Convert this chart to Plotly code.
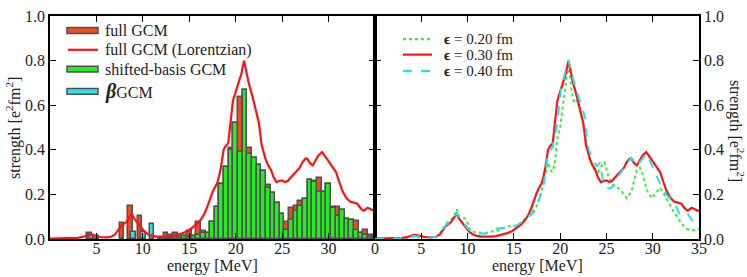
import plotly.graph_objects as go

# ---------------- data ----------------
# histogram bins (MeV) for full GCM / shifted-basis GCM
bin_E = [12.0, 12.5, 13.0, 13.5, 14.0, 14.5, 15.0, 15.5, 16.0, 16.5, 17.0, 17.5, 18.0, 18.5,
         19.0, 19.5, 20.0, 20.5, 21.0, 21.5, 22.0, 22.5, 23.0, 23.5, 24.0, 24.5, 25.0, 25.5,
         26.0, 26.5, 27.0, 27.5, 28.0, 28.5, 29.0, 29.5, 30.0, 30.5, 31.0, 31.5, 32.0, 32.5,
         33.0, 33.5, 34.0, 34.5, 35.0]
shifted_gcm = [0.003, 0.000, 0.005, 0.010, 0.007, 0.013, 0.010, 0.012, 0.020, 0.025, 0.025, 0.075, 0.145, 0.245,
               0.325, 0.400, 0.520, 0.390, 0.670, 0.380, 0.365, 0.330, 0.305, 0.230, 0.205, 0.160, 0.110, 0.040,
               0.085, 0.125, 0.150, 0.180, 0.265, 0.255, 0.210, 0.210, 0.245, 0.140, 0.105, 0.130, 0.090, 0.085,
               0.040, 0.025, 0.020, 0.010, 0.015]
full_gcm_high = [0.003, 0.025, 0.020, 0.025, 0.007, 0.013, 0.035, 0.012, 0.075, 0.035, 0.025, 0.075, 0.145, 0.245,
                 0.325, 0.410, 0.520, 0.635, 0.670, 0.410, 0.365, 0.330, 0.305, 0.240, 0.205, 0.160, 0.110, 0.075,
                 0.140, 0.150, 0.170, 0.180, 0.265, 0.260, 0.275, 0.210, 0.245, 0.145, 0.145, 0.130, 0.090, 0.085,
                 0.080, 0.025, 0.040, 0.020, 0.015]
low_E_full = [4.25, 7.75, 8.7, 9.7]
low_full = [0.025, 0.070, 0.150, 0.104]
beta_E = [4.45, 5.0, 9.0, 10.05, 11.0]
beta_gcm = [0.017, 0.012, 0.032, 0.033, 0.066]

# smeared strength functions
E30 = [0, 1, 2, 3, 3.6, 4.1, 4.5, 4.9, 5.4, 6.0, 6.6, 7.0, 7.3, 7.7, 8.2, 8.5, 8.8, 9.1, 9.4, 9.8,
       10.2, 10.6, 11.0, 11.5, 12.0, 12.5, 13.1, 13.6, 14.2, 14.8, 15.3, 15.8, 16.2, 16.6, 16.9, 17.2,
       17.5, 17.8, 18.0, 18.2, 18.4, 18.7, 18.9, 19.2, 19.4, 19.7, 20.0, 20.3, 20.6, 20.9, 21.1, 21.4,
       21.8, 22.1, 22.5, 22.8, 23.2, 23.5, 23.8, 24.1, 24.4, 24.7, 25.0, 25.3, 25.6, 25.9, 26.2, 26.6,
       26.9, 27.2, 27.5, 27.7, 28.0, 28.3, 28.6, 28.9, 29.3, 29.6, 29.9, 30.3, 30.8, 31.2, 31.5, 31.9,
       32.3, 32.7, 33.1, 33.5, 33.8, 34.2, 34.6, 35.0]
S30 = [0.002, 0.002, 0.003, 0.005, 0.010, 0.017, 0.017, 0.013, 0.009, 0.007, 0.010, 0.020, 0.035, 0.060,
       0.075, 0.095, 0.113, 0.090, 0.073, 0.055, 0.032, 0.020, 0.014, 0.011, 0.010, 0.011, 0.013, 0.018,
       0.025, 0.035, 0.050, 0.065, 0.085, 0.110, 0.140, 0.175, 0.210, 0.235, 0.250, 0.280, 0.320, 0.400,
       0.415, 0.430, 0.520, 0.620, 0.660, 0.700, 0.740, 0.800, 0.760, 0.700, 0.640, 0.590, 0.520, 0.420,
       0.360, 0.330, 0.310, 0.275, 0.255, 0.260, 0.263, 0.255, 0.260, 0.275, 0.290, 0.305, 0.320, 0.345,
       0.360, 0.360, 0.340, 0.330, 0.355, 0.375, 0.390, 0.375, 0.355, 0.330, 0.300, 0.250, 0.215, 0.185,
       0.168, 0.163, 0.158, 0.135, 0.127, 0.140, 0.132, 0.125]
E20 = [0, 2, 3, 3.6, 4.1, 4.6, 5.2, 6.0, 6.6, 7.0, 7.3, 7.7, 8.2, 8.5, 8.85, 9.1, 9.4, 9.7, 10.0, 10.3,
       10.7, 11.2, 12.0, 12.8, 13.5, 14.2, 14.8, 15.3, 15.8, 16.2, 16.7, 17.1, 17.5, 17.8, 18.1, 18.35,
       18.7, 18.9, 19.1, 19.4, 19.7, 20.0, 20.3, 20.7, 20.9, 21.2, 21.5, 21.85, 22.2, 22.5, 22.85, 23.2,
       23.6, 24.1, 24.5, 24.8, 25.2, 25.7, 26.1, 26.5, 26.9, 27.2, 27.7, 28.0, 28.3, 28.6, 28.8, 29.1,
       29.35, 29.9, 30.35, 30.8, 31.1, 31.5, 31.9, 32.2, 32.6, 32.9, 33.3, 33.7, 34.2, 34.6, 35.0]
S20 = [0.000, 0.001, 0.003, 0.006, 0.010, 0.009, 0.007, 0.007, 0.010, 0.025, 0.045, 0.070, 0.085, 0.100,
       0.133, 0.100, 0.097, 0.094, 0.070, 0.040, 0.032, 0.028, 0.028, 0.033, 0.040, 0.056, 0.058, 0.060,
       0.072, 0.090, 0.105, 0.125, 0.150, 0.183, 0.230, 0.284, 0.342, 0.320, 0.300, 0.330, 0.450, 0.500,
       0.600, 0.746, 0.790, 0.674, 0.610, 0.623, 0.570, 0.515, 0.430, 0.356, 0.320, 0.300, 0.330, 0.345,
       0.284, 0.240, 0.235, 0.220, 0.200, 0.183, 0.212, 0.260, 0.313, 0.320, 0.306, 0.260, 0.220, 0.183,
       0.205, 0.230, 0.210, 0.183, 0.150, 0.126, 0.100, 0.082, 0.060, 0.046, 0.039, 0.040, 0.046]
E40 = [0, 2, 3, 3.6, 4.1, 4.6, 5.2, 6.0, 6.6, 7.0, 7.3, 7.7, 8.2, 8.5, 8.85, 9.2, 9.6, 10.0, 10.3, 10.7,
       11.2, 12.0, 12.6, 13.1, 13.6, 14.2, 14.8, 15.3, 15.8, 16.2, 16.7, 17.1, 17.6, 18.2, 18.5, 18.7,
       19.0, 19.2, 19.6, 20.1, 20.5, 20.9, 21.2, 21.5, 21.8, 22.2, 22.7, 22.85, 23.1, 23.4, 23.9, 24.3,
       24.65, 25.0, 25.4, 25.7, 26.0, 26.3, 26.8, 27.3, 27.7, 28.0, 28.3, 28.7, 29.0, 29.35, 29.7, 30.1,
       30.5, 30.8, 31.2, 31.5, 31.9, 32.2, 32.6, 32.9, 33.3, 33.7, 34.0, 34.4, 34.9, 35.0]
S40 = [0.000, 0.001, 0.003, 0.008, 0.013, 0.012, 0.009, 0.007, 0.010, 0.020, 0.040, 0.065, 0.080, 0.095,
       0.118, 0.085, 0.070, 0.050, 0.035, 0.028, 0.025, 0.025, 0.033, 0.046, 0.048, 0.050, 0.055, 0.060,
       0.075, 0.094, 0.105, 0.118, 0.162, 0.240, 0.330, 0.385, 0.400, 0.414, 0.500, 0.674, 0.740, 0.800,
       0.746, 0.700, 0.660, 0.610, 0.544, 0.460, 0.400, 0.370, 0.327, 0.342, 0.255, 0.227, 0.228, 0.234,
       0.260, 0.284, 0.313, 0.345, 0.364, 0.345, 0.328, 0.350, 0.364, 0.382, 0.350, 0.313, 0.280, 0.248,
       0.220, 0.198, 0.180, 0.169, 0.140, 0.111, 0.110, 0.118, 0.100, 0.075, 0.053, 0.050]

x_ticks = [0, 5, 10, 15, 20, 25, 30, 35]
left_x_labels = ["", "5", "10", "15", "20", "25", "30", ""]
right_x_labels = ["0", "5", "10", "15", "20", "25", "30", "35"]
y_ticks = [0.0, 0.2, 0.4, 0.6, 0.8, 1.0]

# ---------------- style ----------------
FONT = "Liberation Serif"
RED_BAR = "#ef4a24"
GREEN_BAR = "#22ee22"
CYAN_BAR = "#33ddee"
EDGE = "#505050"
LINE_RED = "#ff1111"
LINE_GREEN = "#33ee33"
LINE_CYAN = "#22e0ee"

W, H = 747, 277
L, R, T, B = 50, 48, 8, 38
PW = W - L - R
PH = H - T - B
split = (375 - L) / PW


def px(x):
    return (x - L) / PW


def py(y):
    return (H - B - y) / PH


fig = go.Figure()

fig.add_trace(go.Bar(x=low_E_full + bin_E, y=low_full + full_gcm_high, width=0.5,
                     marker=dict(color=RED_BAR, line=dict(color=EDGE, width=1.5)),
                     xaxis="x", yaxis="y", showlegend=False))
fig.add_trace(go.Bar(x=bin_E, y=shifted_gcm, width=0.5,
                     marker=dict(color=GREEN_BAR, line=dict(color=EDGE, width=1.5)),
                     xaxis="x", yaxis="y", showlegend=False))
fig.add_trace(go.Bar(x=beta_E, y=beta_gcm, width=0.5,
                     marker=dict(color=CYAN_BAR, line=dict(color=EDGE, width=1.5)),
                     xaxis="x", yaxis="y", showlegend=False))
fig.add_trace(go.Scatter(x=E30, y=S30, mode="lines", line=dict(color=LINE_RED, width=2.2),
                         xaxis="x", yaxis="y", showlegend=False))

fig.add_trace(go.Scatter(x=E20, y=S20, mode="lines", line=dict(color=LINE_GREEN, width=2, dash="dot"),
                         xaxis="x2", yaxis="y2", showlegend=False))
fig.add_trace(go.Scatter(x=E30, y=S30, mode="lines", line=dict(color=LINE_RED, width=2.2),
                         xaxis="x2", yaxis="y2", showlegend=False))
fig.add_trace(go.Scatter(x=E40, y=S40, mode="lines", line=dict(color=LINE_CYAN, width=2, dash="dash"),
                         xaxis="x2", yaxis="y2", showlegend=False))

axis_common = dict(showline=True, linecolor="black", linewidth=1.5, mirror="ticks",
                   ticks="inside", ticklen=6, tickcolor="black", tickwidth=1,
                   showgrid=False, zeroline=False,
                   tickfont=dict(family=FONT, size=16, color="#222"))

fig.update_layout(
    width=W, height=H, autosize=False,
    margin=dict(l=L, r=R, t=T, b=B, pad=0),
    paper_bgcolor="white", plot_bgcolor="white",
    barmode="overlay", bargap=0,
    font=dict(family=FONT, size=16, color="#222"),
    xaxis=dict(domain=[0, split], range=[0, 35], tickvals=x_ticks, ticktext=left_x_labels,
               anchor="y", ticklabelstandoff=-6, **axis_common),
    yaxis=dict(domain=[0, 1], range=[0, 1], tickvals=y_ticks, tickformat=".1f",
               anchor="x", **axis_common),
    xaxis2=dict(domain=[split, 1], range=[0, 35], tickvals=x_ticks, ticktext=right_x_labels,
                anchor="y2", ticklabelstandoff=-6, **axis_common),
    yaxis2=dict(domain=[0, 1], range=[0, 1], tickvals=y_ticks, tickformat=".1f",
                anchor="x2", side="right", **axis_common),
)

ann = []
shapes = []
# axis titles
ann.append(dict(x=split / 2, y=py(267), xref="paper", yref="paper", text="energy [MeV]",
                showarrow=False, xanchor="center", yanchor="middle", font=dict(size=16)))
ann.append(dict(x=(1 + split) / 2, y=py(267), xref="paper", yref="paper", text="energy [MeV]",
                showarrow=False, xanchor="center", yanchor="middle", font=dict(size=16)))
ann.append(dict(x=px(14), y=py(124), xref="paper", yref="paper",
                text="strength [e<sup>2</sup>fm<sup>2</sup>]", textangle=-90,
                showarrow=False, xanchor="center", yanchor="middle", font=dict(size=16)))
ann.append(dict(x=px(736), y=py(127), xref="paper", yref="paper",
                text="strength [e<sup>2</sup>fm<sup>2</sup>]", textangle=90,
                showarrow=False, xanchor="center", yanchor="middle", font=dict(size=16)))

# left legend
leg_left = [("bar", RED_BAR, "full GCM", 23),
            ("line", LINE_RED, "full GCM (Lorentzian)", 43),
            ("bar", GREEN_BAR, "shifted-basis GCM", 63),
            ("bar", CYAN_BAR, "<span style='font-size:20px'><b><i>β</i></b></span>GCM", 86)]
for kind, col, txt, yy in leg_left:
    if kind == "bar":
        shapes.append(dict(type="rect", xref="paper", yref="paper",
                           x0=px(67), x1=px(98), y0=py(yy + 3), y1=py(yy - 3),
                           fillcolor=col, line=dict(color=EDGE, width=1.5)))
    else:
        shapes.append(dict(type="line", xref="paper", yref="paper",
                           x0=px(68), x1=px(98), y0=py(yy), y1=py(yy),
                           line=dict(color=col, width=2.2)))
    ann.append(dict(x=px(103), y=py(yy), xref="paper", yref="paper", text=txt,
                    showarrow=False, xanchor="left", yanchor="middle", font=dict(size=16)))

# right legend
leg_right = [(LINE_GREEN, "dot", "<b>ϵ</b> = 0.20 fm", 32),
             (LINE_RED, "solid", "<b>ϵ</b> = 0.30 fm", 48),
             (LINE_CYAN, "dash", "<b>ϵ</b> = 0.40 fm", 65)]
for col, dash, txt, yy in leg_right:
    shapes.append(dict(type="line", xref="paper", yref="paper",
                       x0=px(403), x1=px(432), y0=py(yy), y1=py(yy),
                       line=dict(color=col, width=2.2, dash=dash)))
    ann.append(dict(x=px(442), y=py(yy), xref="paper", yref="paper", text=txt,
                    showarrow=False, xanchor="left", yanchor="middle", font=dict(size=15)))

fig.update_layout(annotations=ann, shapes=shapes)

fig.write_html("out.html", config={"displayModeBar": False},
               post_script="document.body.style.margin='0';")
